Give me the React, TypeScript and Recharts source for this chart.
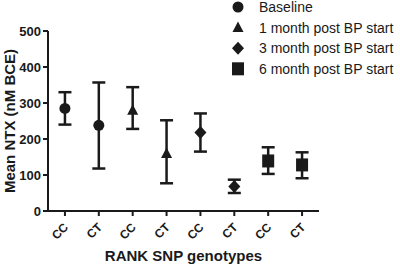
import {
  ComposedChart,
  ErrorBar,
  Label,
  Legend,
  Line,
  XAxis,
  YAxis,
} from "recharts";

const categories = ["CC", "CT", "CC", "CT", "CC", "CT", "CC", "CT"];
const yTicks = [0, 100, 200, 300, 400, 500];

const seriesNames = [
  "Baseline",
  "1 month post BP start",
  "3 month post BP start",
  "6 month post BP start",
];

// mean, lower and upper end of error bar, per genotype column
const baselineMean = [285, 238, null, null, null, null, null, null];
const baselineLow = [240, 118, null, null, null, null, null, null];
const baselineHigh = [330, 357, null, null, null, null, null, null];

const month1Mean = [null, null, 280, 160, null, null, null, null];
const month1Low = [null, null, 228, 77, null, null, null, null];
const month1High = [null, null, 344, 252, null, null, null, null];

const month3Mean = [null, null, null, null, 218, 68, null, null];
const month3Low = [null, null, null, null, 165, 50, null, null];
const month3High = [null, null, null, null, 271, 87, null, null];

const month6Mean = [null, null, null, null, null, null, 139, 128];
const month6Low = [null, null, null, null, null, null, 103, 91];
const month6High = [null, null, null, null, null, null, 177, 163];

const means = [baselineMean, month1Mean, month3Mean, month6Mean];
const lows = [baselineLow, month1Low, month3Low, month6Low];
const highs = [baselineHigh, month1High, month3High, month6High];

const shapes = ["circle", "triangle", "diamond", "square"];
const INK = "#1a1a1a";
const FONT = "'Liberation Sans', Arial, sans-serif";

const xPositions = categories.map((_, i) => i + 1);

const data = categories.map((cat, i) => {
  const row: Record<string, any> = { cat, x: xPositions[i] };
  means.forEach((m, s) => {
    const v = m[i];
    row[`s${s}`] = v;
    row[`e${s}`] =
      v == null ? undefined : [v - (lows[s][i] as number), (highs[s][i] as number) - v];
  });
  return row;
});

function Marker({ shape, cx, cy }: { shape: string; cx: number; cy: number }) {
  if (shape === "circle") return <circle cx={cx} cy={cy} r={5.5} fill={INK} />;
  if (shape === "triangle")
    return (
      <polygon
        points={`${cx},${cy - 6} ${cx + 5.5},${cy + 4.5} ${cx - 5.5},${cy + 4.5}`}
        fill={INK}
      />
    );
  if (shape === "diamond")
    return (
      <polygon
        points={`${cx},${cy - 6.5} ${cx + 6},${cy} ${cx},${cy + 6.5} ${cx - 6},${cy}`}
        fill={INK}
      />
    );
  return <rect x={cx - 6} y={cy - 6.5} width={12} height={13} fill={INK} />;
}

function makeDot(shape: string) {
  return (props: any) => {
    const { cx, cy, index } = props;
    if (cx == null || cy == null || props.value == null)
      return <g key={`${shape}-${index}`} />;
    return (
      <g key={`${shape}-${index}`}>
        <Marker shape={shape} cx={cx} cy={cy} />
      </g>
    );
  };
}

function XTick({ x, y, payload }: any) {
  return (
    <g transform={`translate(${x + 4},${y + 10})`}>
      <text
        x={0}
        y={0}
        textAnchor="end"
        transform="rotate(-45)"
        fontSize={12}
        fontWeight="bold"
        fontFamily={FONT}
        fill={INK}
      >
        {categories[payload.value - 1]}
      </text>
    </g>
  );
}

function LegendBox() {
  return (
    <svg width={170} height={80} style={{ display: "block" }}>
      {seriesNames.map((name, i) => {
        const cy = 7 + i * 20.6;
        return (
          <g key={name}>
            <Marker shape={shapes[i]} cx={8} cy={cy} />
            <text x={29} y={cy + 5} fontSize={14} fontFamily={FONT} fill={INK}>
              {name}
            </text>
          </g>
        );
      })}
    </svg>
  );
}

export default function App() {
  return (
    <div style={{ position: "absolute", left: 0, top: 0, background: "#fff" }}>
      <ComposedChart
        width={400}
        height={264}
        data={data}
        margin={{ top: 31, right: 81, left: 0, bottom: 0 }}
      >
        <XAxis
          dataKey="x"
          type="number"
          domain={[0.5, 8.5]}
          ticks={xPositions}
          height={53}
          tick={<XTick />}
          tickSize={5}
          tickLine={{ stroke: INK, strokeWidth: 2 }}
          axisLine={{ stroke: INK, strokeWidth: 2 }}
          interval={0}
        >
          <Label
            value="RANK SNP genotypes"
            position="insideBottom"
            offset={3}
            style={{ fontSize: 15, fontWeight: "bold", fontFamily: FONT, fill: INK }}
          />
        </XAxis>
        <YAxis
          width={48}
          domain={[0, 500]}
          ticks={yTicks}
          tickSize={5}
          tickLine={{ stroke: INK, strokeWidth: 2 }}
          axisLine={{ stroke: INK, strokeWidth: 2 }}
          tick={{ fontSize: 13, fontWeight: "bold", fontFamily: FONT, fill: INK }}
        >
          <Label
            value="Mean NTX (nM BCE)"
            angle={-90}
            position="insideLeft"
            offset={10}
            style={{
              textAnchor: "middle",
              fontSize: 15,
              fontWeight: "bold",
              fontFamily: FONT,
              fill: INK,
            }}
          />
        </YAxis>
        <Legend
          layout="vertical"
          align="center"
          verticalAlign="middle"
          wrapperStyle={{ left: 230, top: 0, width: 170, height: 80 }}
          content={() => <LegendBox />}
        />
        {seriesNames.map((name, s) => (
          <Line
            key={name}
            name={name}
            dataKey={`s${s}`}
            stroke="none"
            isAnimationActive={false}
            dot={makeDot(shapes[s])}
            activeDot={false}
          >
            <ErrorBar
              dataKey={`e${s}`}
              direction="y"
              width={6.5}
              stroke={INK}
              strokeWidth={2.5}
            />
          </Line>
        ))}
      </ComposedChart>
    </div>
  );
}
